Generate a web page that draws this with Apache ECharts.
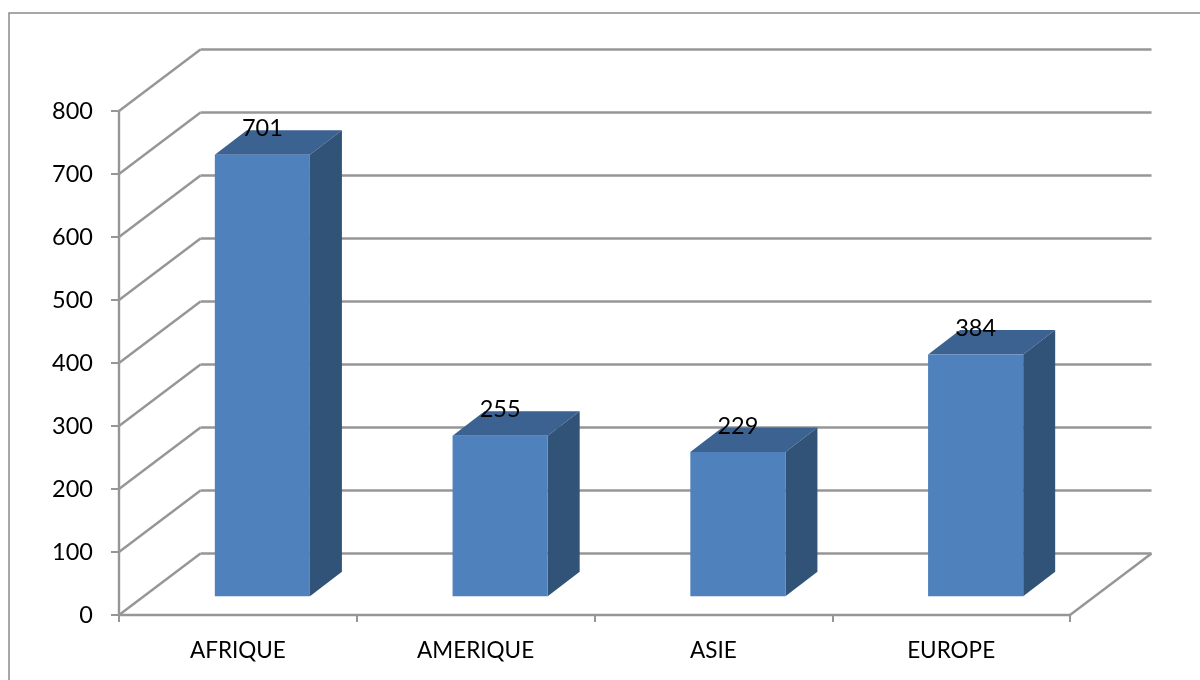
<!DOCTYPE html>
<html>
<head>
<meta charset="utf-8">
<style>html,body{margin:0;padding:0;background:#fff}#c{width:1200px;height:680px}</style>
<script src="https://cdn.jsdelivr.net/npm/echarts@6/dist/echarts.min.js"></script>
</head>
<body>
<div id="c"></div>
<script>
const categories = ['AFRIQUE', 'AMERIQUE', 'ASIE', 'EUROPE'];
const values = [701, 255, 229, 384];
const yTicks = [0, 100, 200, 300, 400, 500, 600, 700, 800];

const FONT = 'Lato';
const WALL = [81.5, -61.5];
const BAR_BASE = [24.5, -18.7];
const BAR_DEPTH = [32, -24.5];
const BAR_FRAC = 0.4;
const LINE = '#969696';

function wallItem(params, api) {
  const v = api.value(1);
  const p = api.coord([0, v]);
  const cs = params.coordSys;
  const x0 = cs.x, x1 = cs.x + cs.width, y = p[1];
  const bx = x0 + WALL[0], by = y + WALL[1];
  const ls = { stroke: LINE, lineWidth: 2.4, fill: 'none' };
  const children = [
    { type: 'line', shape: { x1: x0, y1: y, x2: bx, y2: by }, style: ls },
    { type: 'line', shape: { x1: bx, y1: by, x2: x1 + WALL[0], y2: by }, style: ls }
  ];
  if (v === 0) {
    children.push({ type: 'line', shape: { x1: x1, y1: y, x2: x1 + WALL[0], y2: by }, style: ls });
  }
  return { type: 'group', children };
}

function barItem(params, api) {
  const i = api.value(0), v = api.value(1);
  const band = api.size([1, 0])[0];
  const w = band * BAR_FRAC;
  const zero = api.coord([i, 0]), top = api.coord([i, v]);
  const l = zero[0] - w / 2 + BAR_BASE[0], r = l + w;
  const b = zero[1] + BAR_BASE[1], t = top[1] + BAR_BASE[1];
  const dx = BAR_DEPTH[0], dy = BAR_DEPTH[1];
  return {
    type: 'group',
    children: [
      { type: 'polygon', shape: { points: [[l, t], [r, t], [r + dx, t + dy], [l + dx, t + dy]] }, style: { fill: '#3B6291' } },
      { type: 'polygon', shape: { points: [[r, t], [r + dx, t + dy], [r + dx, b + dy], [r, b]] }, style: { fill: '#325378' } },
      { type: 'rect', shape: { x: l, y: t, width: w, height: b - t }, style: { fill: '#4F81BD' } },
      { type: 'text', z2: 10, style: { x: (l + r) / 2, y: t - 26, text: String(v), fill: '#000', font: '23.5px ' + FONT, align: 'center', verticalAlign: 'middle' } }
    ]
  };
}

const chart = echarts.init(document.getElementById('c'), null, { renderer: 'canvas' });
chart.setOption({
  animation: false,
  backgroundColor: '#fff',
  grid: { left: 119, right: 130, top: 111, bottom: 65 },
  graphic: [{
    type: 'polyline',
    silent: true,
    shape: { points: [[9, 680], [9, 13], [1200, 13]] },
    style: { stroke: '#8a8a8a', lineWidth: 1.5, fill: 'none' }
  }],
  xAxis: {
    type: 'category',
    data: categories,
    boundaryGap: true,
    axisLine: { show: true, lineStyle: { color: LINE, width: 2.4 } },
    axisTick: { show: true, length: 7, lineStyle: { color: LINE, width: 2 } },
    axisLabel: { margin: 24, fontFamily: FONT, fontSize: 22.5, color: '#000' }
  },
  yAxis: {
    type: 'value',
    min: 0,
    max: 800,
    interval: 100,
    axisLine: { show: true, lineStyle: { color: LINE, width: 2.4 } },
    axisTick: { show: true, length: 8, lineStyle: { color: LINE, width: 2 } },
    splitLine: { show: false },
    axisLabel: { margin: 26, fontFamily: FONT, fontSize: 23.5, color: '#000', padding: [4, 0, 0, 0] }
  },
  series: [
    {
      type: 'custom',
      silent: true,
      z: 1,
      renderItem: wallItem,
      encode: { x: 0, y: 1 },
      data: yTicks.map(v => [0, v])
    },
    {
      type: 'custom',
      z: 3,
      renderItem: barItem,
      encode: { x: 0, y: 1 },
      data: values.map((v, i) => [i, v])
    }
  ]
});
</script>
</body>
</html>
